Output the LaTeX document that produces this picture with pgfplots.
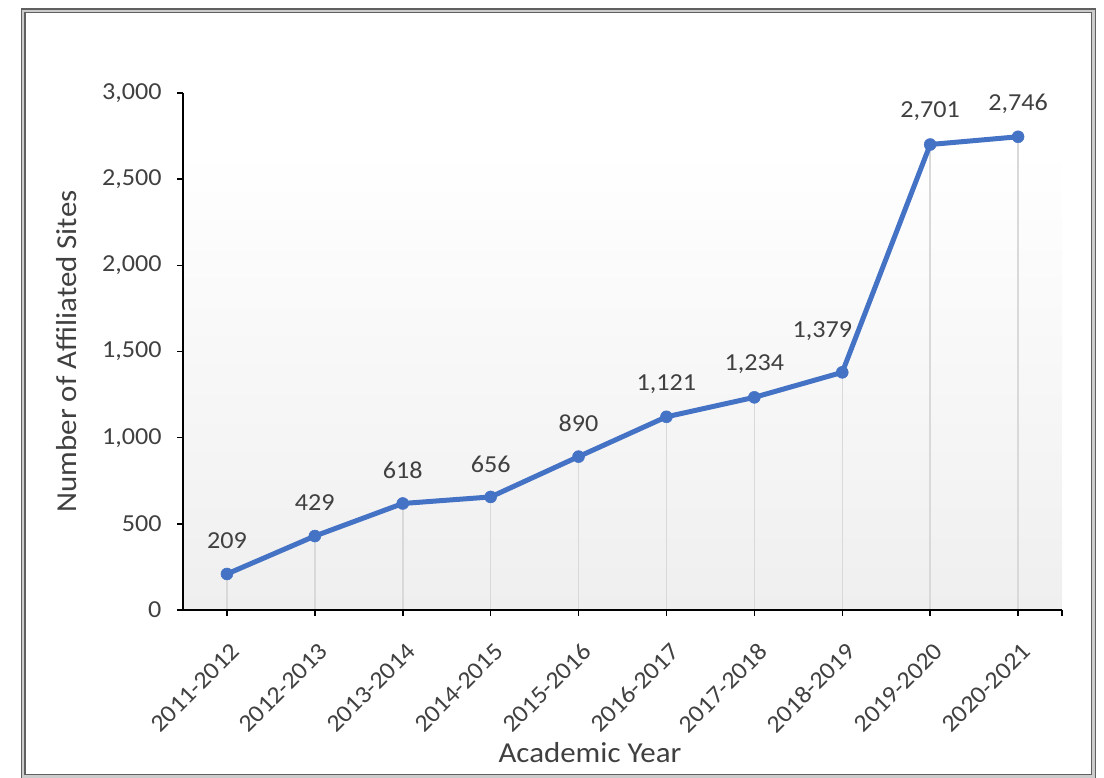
\documentclass[border=0pt]{standalone}
\usepackage{pgfplots}
\pgfplotsset{compat=1.18}
\usepackage{pgfplotstable}
\usepackage{fontspec}
\setmainfont{Carlito}[FakeStretch=1.07]
\definecolor{lineblue}{HTML}{4472C4}
\definecolor{txt}{HTML}{404040}
\definecolor{dropg}{HTML}{D9D9D9}
\definecolor{bggray}{HTML}{EFEFEF}

\pgfplotstableread{
x y lab
0 209 209
1 429 429
2 618 618
3 656 656
4 890 890
5 1121 1,121
6 1234 1,234
7 1379 {}
8 2701 2,701
9 2746 2,746
}\datatable

\begin{document}
\begin{tikzpicture}[x=1bp,y=1bp]
\path[use as bounding box] (0,0) rectangle (1104,778);
\draw[draw=gray!75!black, line width=1.3bp, double=gray!40, double distance=2.4bp] (23,1.5) rectangle (1093.5,767);
\begin{axis}[
  axis on top,
  at={(183bp,168bp)}, anchor=south west,
  width=879bp, height=517bp, scale only axis,
  xmin=-0.5, xmax=9.5, ymin=0, ymax=3000,
  axis x line*=bottom, axis y line*=left,
  axis line style={black, line width=1.5bp},
  every tick/.style={black, line width=1.5bp},
  tick align=outside, major tick length=6bp,
  xtick={0,...,9},
  xticklabels={2011-2012,2012-2013,2013-2014,2014-2015,2015-2016,2016-2017,2017-2018,2018-2019,2019-2020,2020-2021},
  extra x ticks={9.5}, extra x tick labels={},
  extra x tick style={tick align=outside},
  ytick={0,500,...,3000},
  /pgf/number format/.cd, 1000 sep={,}, assume math mode=true,
  /pgfplots/.cd,
  yticklabel style={font=\fontsize{24.5}{24.5}\selectfont, text=txt, xshift=-12bp},
  xticklabel style={font=\fontsize{24.5}{24.5}\selectfont, text=txt, rotate=45, anchor=north east, inner sep=0pt, xshift=-16bp, yshift=-20bp},
  xlabel={Academic Year},
  ylabel={Number of Affiliated Sites},
  xlabel style={font=\fontsize{29}{29}\selectfont, text=txt, at={(axis description cs:0.463,-0.275)}, anchor=center},
  ylabel style={font=\fontsize{29}{29}\selectfont, text=txt, at={(axis description cs:-0.132,0.5)}, anchor=center},
  clip=false,
]
\addplot[draw=none, top color=white, bottom color=bggray, no marks]
  coordinates {(-0.5,0) (-0.5,2680) (9.5,2680) (9.5,0)} -- cycle;
\addplot[ycomb, dropg, line width=1.5bp, no marks] table[x=x,y=y]{\datatable};
\addplot[lineblue, line width=5bp, line join=round, mark=*, mark size=6bp,
  mark options={fill=lineblue, draw=lineblue, line width=0.5bp},
  nodes near coords, point meta=explicit symbolic,
  every node near coord/.append style={anchor=center, yshift=33bp,
    font=\fontsize{24.5}{24.5}\selectfont, text=txt}]
  table[x=x,y=y,meta=lab]{\datatable};
\addplot[draw=none, no marks, nodes near coords, point meta=explicit symbolic,
  every node near coord/.append style={anchor=center, xshift=-20bp, yshift=41bp,
    font=\fontsize{24.5}{24.5}\selectfont, text=txt}]
  coordinates {(7,1379) [1,379]};
\end{axis}
\end{tikzpicture}
\end{document}
